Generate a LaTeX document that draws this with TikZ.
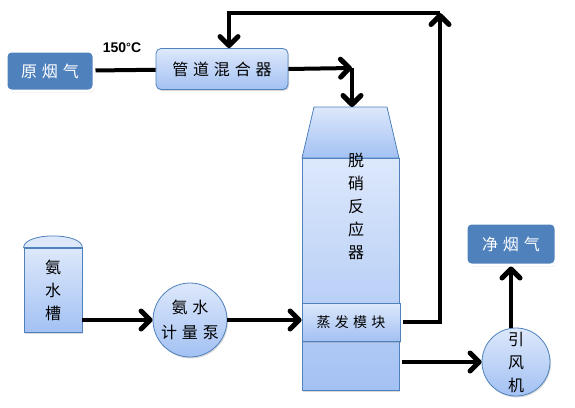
\documentclass[tikz,border=0pt]{standalone}
\usepackage{fontspec}
\setmainfont{Liberation Sans}
\newfontfamily\cjk[LetterSpace=30]{Noto Sans CJK SC}
\usetikzlibrary{arrows.meta,shadows}

\definecolor{edgeblue}{HTML}{4F81BD}
\definecolor{paletop}{HTML}{DDE8FB}
\definecolor{palebot}{HTML}{A3C1F3}

\tikzset{
	lightbox/.style={draw=edgeblue, line width=0.8pt, top color=paletop, bottom color=palebot, drop shadow={shadow xshift=1pt, shadow yshift=-1.5pt, opacity=0.3}},
	darkbox/.style={draw=white, line width=3pt, fill=edgeblue, rounded corners=5pt, text=white, drop shadow={shadow xshift=1pt, shadow yshift=-1.5pt, opacity=0.35}},
	pipe/.style={line width=4pt},
	flow/.style={pipe, -{Straight Barb[length=9pt, width=18pt, line width=0pt 1.25, round]}},
	cjktext/.style={font=\cjk\fontsize{16}{23}\selectfont, align=center}
}

\begin{document}
\begin{tikzpicture}[x=1pt, y=-1pt]
			%%%%% START %%%%%
			\useasboundingbox (0, 0) rectangle (575, 407);
			
			% flue gas side
			\node[darkbox, cjktext, minimum width=88, minimum height=40] (raw) at (50, 71) {原烟气};
			\node[lightbox, cjktext, rounded corners=5pt, minimum width=132, minimum height=41] (mixer) at (222, 69) {管道混合器};
			\node[font=\bfseries\fontsize{14}{16}\selectfont] (temp) at (122, 48) {150\raisebox{1.5pt}{\fontsize{12}{12}\selectfont°}C};
			
			% reactor
			\draw[draw=edgeblue, line width=0.8pt, top color=paletop, bottom color=palebot] (314, 107) -- (387, 107) -- (399, 158) -- (302, 158) -- cycle;
			\coordinate (hood) at (352, 107);
			\node[lightbox, minimum width=97, minimum height=232] (reactor) at (350.5, 274) {};
			\node[cjktext] (rlabel) at (356, 206) {脱\\硝\\反\\应\\器};
			\node[lightbox, cjktext, font=\cjk\fontsize{14}{16}\selectfont, minimum width=98, minimum height=38] (evap) at (351, 322) {蒸发模块};
			
			% ammonia side
			\node[lightbox, cjktext, minimum width=58, minimum height=84] (tank) at (53, 290) {氨\\水\\槽};
			\draw[draw=edgeblue, line width=0.8pt, top color=paletop, bottom color=paletop] (tank.north west) .. controls (24, 232) and (82, 232) .. (tank.north east) -- cycle;
			\node[lightbox, cjktext, circle, minimum size=74, inner sep=0pt, font=\cjk\fontsize{16}{25}\selectfont] (pump) at (190, 320) {氨水\\计量泵};
			
			% exhaust
			\node[lightbox, cjktext, circle, minimum size=68, inner sep=0pt] (fan) at (516, 362) {引\\风\\机};
			\node[darkbox, cjktext, minimum width=90, minimum height=42] (clean) at (511, 244) {净烟气};
			\coordinate (turn) at (352, 68);
			\coordinate (loop) at (440, 13);
			
			% connectors
			\draw[pipe] (raw) -- (mixer);
			\draw[flow] (mixer.east) -- (turn);
			\draw[flow] (turn) -- (hood);
			\draw[flow, shorten <=3pt] (evap.east) -| (loop);
			\draw[flow] (loop) -| ([xshift=7pt]mixer.north);
			\draw[flow] (tank.east |- pump.west) -- (pump.west);
			\draw[flow] (pump.east) -- (pump.east -| evap.west);
			\draw[flow, shorten <=3pt] (reactor.east |- fan.west) -- (fan.west);
			\draw[flow] (clean.south |- fan.north) -- (clean.south);
			%%%%% END %%%%%
\end{tikzpicture}
\end{document}
